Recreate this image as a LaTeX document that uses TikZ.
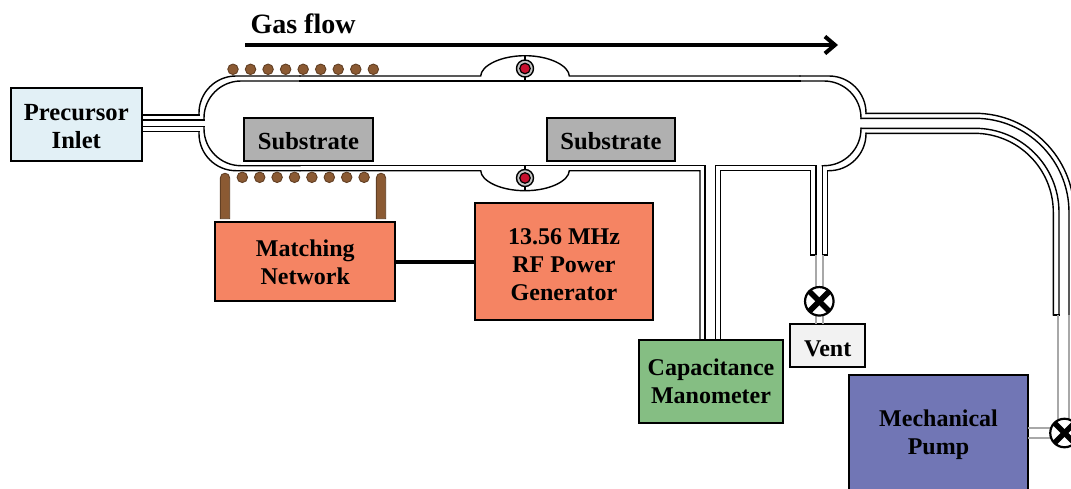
\documentclass[tikz,border=0pt]{standalone}
\usepackage{fontspec}
\setmainfont{Liberation Serif}
\usetikzlibrary{arrows.meta}
\definecolor{inletc}{HTML}{E2F0F6}
\definecolor{subc}{HTML}{B0B0B0}
\definecolor{rfc}{HTML}{F58463}
\definecolor{manoc}{HTML}{85BE83}
\definecolor{pumpc}{HTML}{7176B5}
\definecolor{ventc}{HTML}{F2F2F2}
\definecolor{copperc}{HTML}{8B5A33}
\definecolor{sensorc}{HTML}{C8102E}
\definecolor{feedc}{HTML}{A8A8A8}
\newcommand{\lbl}[2]{\raisebox{-#1pt}[\height][\depth]{\begin{tabular}{@{}c@{}}#2\end{tabular}}}
\tikzset{
  x=1pt,y=-1pt,
  labelbox/.style={draw=black,line width=2.2pt,inner sep=0pt,outer sep=0pt,align=center,text=black,font=\bfseries\fontsize{24}{28}\selectfont},
  widelabel/.style={font=\bfseries\fontsize{24.6}{28}\selectfont},
  tubewall/.style={line width=1.4pt,line cap=rect,line join=miter,draw=black},
  tubebend/.style={tubewall,rounded corners=37pt},
  feedline/.style={draw=feedc,line width=2.2pt},
  coilturn/.style={draw=copperc!70!black,fill=copperc,circle,line width=0.9pt,minimum size=10.5pt,inner sep=0pt,outer sep=0pt},
  coilleg/.style={draw=copperc!70!black,fill=copperc,line width=0.9pt},
  sensorring/.style={circle,draw=black,fill=gray!45,line width=1.4pt,minimum size=17pt,inner sep=0pt},
  sensorcore/.style={circle,draw=black,fill=sensorc,line width=1.2pt,minimum size=10.5pt,inner sep=0pt},
  valvebody/.style={circle,draw=black,fill=white,line width=2.2pt,minimum size=28.5pt,inner sep=0pt,outer sep=0pt},
  valvex/.style={draw=black,line width=5.5pt},
}
\begin{document}
\begin{tikzpicture}
\useasboundingbox (0,0) rectangle (1071,488);

% gas flow
\coordinate (flowA) at (245,45);
\coordinate (flowB) at (838,45);
\draw[line width=4pt,-{Straight Barb[length=10pt,width=17pt,line width=4pt]}] (flowA) -- (flowB);
\node[font=\bfseries\fontsize{28}{30}\selectfont,anchor=center] (flowlabel) at (303,23.5) {Gas flow};

% chamber left end and inlet tube
\draw[tubewall] (142,115) -- (199,115);
\draw[tubewall] (142,120) -- (204,120);
\draw[tubewall] (142,126.7) -- (204,126.7);
\draw[tubewall] (142,131.7) -- (199,131.7);
\draw[tubebend] (199,115) -- (199,76) -- (300,76);
\draw[tubebend] (204,120) -- (204,81) -- (300,81);
\draw[tubebend] (204,126.7) -- (204,165.7) -- (300,165.7);
\draw[tubebend] (199,131.7) -- (199,170.7) -- (300,170.7);

% long walls
\draw[tubewall] (300,76) -- (480.7,76) .. controls (481,66) and (500,55.7) .. (525,55.7) .. controls (550,55.7) and (569,66) .. (569.3,76) -- (800,76);
\draw[tubewall] (300,81) -- (800,81);
\draw[tubewall] (300,165.7) -- (705,165.7) -- (705,340);
\draw[tubewall] (300,170.7) -- (480.7,170.7) .. controls (481,180.7) and (500,190.7) .. (525,190.7) .. controls (550,190.7) and (569,180.7) .. (569.3,170.7) -- (700,170.7) -- (700,340);
\draw[tubewall] (720.7,340) -- (720.7,170.7) -- (810.5,170.7) -- (810.5,255) -- (816,255) -- (816,165.7) -- (715.7,165.7) -- (715.7,340);

% chamber right end
\draw[tubebend] (800,76) -- (866,76) -- (866,113.3);
\draw[tubebend] (800,81) -- (861,81) -- (861,118.3);
\draw[tubebend] (861,128.3) -- (861,165.7) -- (822.3,165.7);
\draw[tubebend] (866,133.3) -- (866,170.7) -- (827.7,170.7);
\draw[tubewall] (822.3,165.7) -- (822.3,255) -- (827.7,255) -- (827.7,170.7);

% pump line
\draw[tubewall,rounded corners=99pt] (866,113.3) -- (1074,113.3) -- (1074,315);
\draw[tubewall,rounded corners=94pt] (861,118.3) -- (1069,118.3) -- (1069,315);
\draw[tubewall,rounded corners=84pt] (861,128.3) -- (1059,128.3) -- (1059,315);
\draw[tubewall,rounded corners=79pt] (866,133.3) -- (1053.3,133.3) -- (1053.3,315);
\draw[tubewall] (1053.3,315) -- (1059,315);

% sensors
\coordinate (topS) at (525,55.7);
\coordinate (topE) at (525,81);
\coordinate (botS) at (525,165.7);
\coordinate (botE) at (525,190.7);
\draw[line width=2.6pt] (topS) -- (topE);
\draw[line width=2.6pt] (botS) -- (botE);
\node[sensorring] (s1r) at (525,68.5) {};
\node[sensorcore] (s1c) at (525,68.5) {};
\node[sensorring] (s2r) at (525,178) {};
\node[sensorcore] (s2c) at (525,178) {};

% coil
\foreach \i in {0,...,8} \node[coilturn] (ct\i) at (233+\i*17.54,69.3) {};
\foreach \i in {0,...,7} \node[coilturn] (cb\i) at (242.3+\i*17.4,177.3) {};
\draw[coilleg] (220.3,218.7) -- (220.3,178) .. controls (220.3,171.7) and (229.7,171.7) .. (229.7,178) -- (229.7,218.7) -- cycle;
\draw[coilleg] (376.3,218.7) -- (376.3,178) .. controls (376.3,171.7) and (385.7,171.7) .. (385.7,178) -- (385.7,218.7) -- cycle;

% boxes
\node[labelbox,widelabel,fill=inletc,minimum width=131pt,minimum height=73pt] (inlet) at (76.3,124.8) {\lbl{4}{Precursor\\Inlet}};
\node[labelbox,widelabel,fill=subc,minimum width=128.4pt,minimum height=43pt] (sub1) at (308.5,139.2) {\lbl{5}{Substrate}};
\node[labelbox,widelabel,fill=subc,minimum width=128.4pt,minimum height=43pt] (sub2) at (611,139.2) {\lbl{5}{Substrate}};
\node[labelbox,fill=rfc,minimum width=180pt,minimum height=79pt] (match) at (305.3,261.5) {\lbl{3}{Matching\\Network}};
\node[labelbox,fill=rfc,minimum width=178pt,minimum height=117pt] (gen) at (564,261.5) {\lbl{5}{13.56 MHz\\RF Power\\Generator}};
\node[labelbox,fill=manoc,minimum width=144pt,minimum height=83pt] (mano) at (711,381.5) {\lbl{2.5}{Capacitance\\Manometer}};
\node[labelbox,fill=ventc,minimum width=75.3pt,minimum height=42.7pt] (vent) at (827.7,345.7) {\lbl{5}{Vent}};
\node[labelbox,fill=pumpc,minimum width=179pt,minimum height=118pt] (pump) at (938.5,434) {\lbl{1.2}{Mechanical\\Pump}};
\draw[line width=4pt] (match) -- (gen);

% vent valve
\coordinate (vL) at (815.7,255);
\coordinate (vR) at (822.7,255);
\draw[feedline] (vL) -- (vL |- vent.north);
\draw[feedline] (vR) -- (vR |- vent.north);
\node[valvebody] (v1) at (819.3,301.3) {};
\draw[valvex] (v1.45) -- (v1.225);
\draw[valvex] (v1.135) -- (v1.315);

% pump valve
\coordinate (pL) at (1058.3,315);
\coordinate (pR) at (1069.3,315);
\coordinate (pT) at (1064.5,428);
\coordinate (pB) at (1064.5,438);
\draw[feedline] (pL) -- (pL |- pT);
\draw[feedline] (pR) -- (pR |- pT);
\draw[feedline] (pT) -- (pT -| pump.east);
\draw[feedline] (pB) -- (pB -| pump.east);
\node[valvebody] (v2) at (1064.5,433) {};
\draw[valvex] (v2.45) -- (v2.225);
\draw[valvex] (v2.135) -- (v2.315);
\end{tikzpicture}
\end{document}
